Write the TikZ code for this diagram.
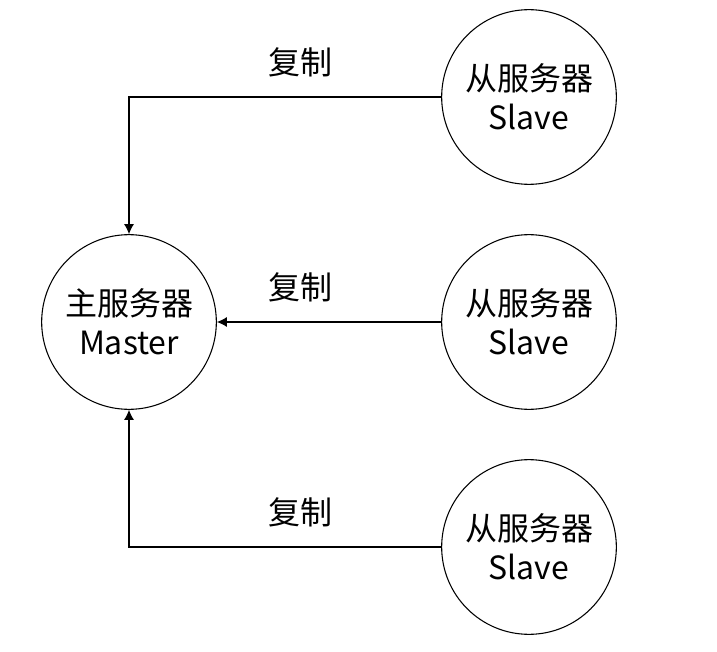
\documentclass[tikz,border=0pt]{standalone}
\usepackage{fontspec}
\setmainfont{Noto Sans CJK SC}
\usetikzlibrary{arrows.meta}

\begin{document}
\begin{tikzpicture}[x=0.75pt,y=-0.75pt,server/.style={circle,draw,line width=0.8pt,fill=white,minimum size=131pt,inner sep=0pt,align=center,font=\fontsize{24pt}{29pt}\selectfont},copyline/.style={line width=0.8pt,-{Latex[length=7.5pt,width=7.5pt]}},copylabel/.style={font=\fontsize{24pt}{29pt}\selectfont}]
\useasboundingbox (0,0) rectangle (717,652);
\coordinate (M) at (129,322);
\coordinate (S1) at (529,97);
\coordinate (S2) at (529,322);
\coordinate (S3) at (529,547);
\node[server] (master) at (M) {主服务器\\Master};
\node[server] (slave1) at (S1) {从服务器\\Slave};
\node[server] (slave2) at (S2) {从服务器\\Slave};
\node[server] (slave3) at (S3) {从服务器\\Slave};
\draw[copyline] (slave1.west) -| (master.north);
\draw[copyline] (slave2.west) -- (master.east);
\draw[copyline] (slave3.west) -| (master.south);
\node[copylabel] (copy1) at (300,62) {复制};
\node[copylabel] (copy2) at (300,287) {复制};
\node[copylabel] (copy3) at (300,512) {复制};
\end{tikzpicture}
\end{document}
